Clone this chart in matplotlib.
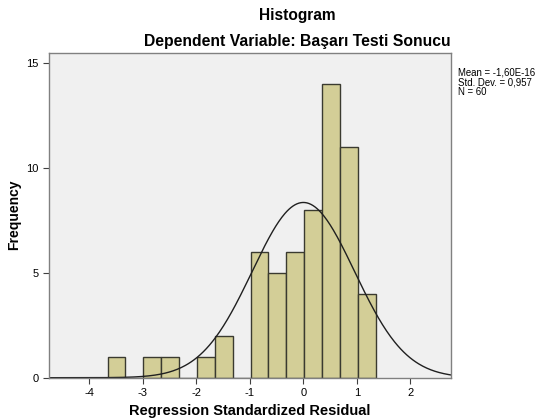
import numpy as np
import matplotlib.pyplot as plt

plt.rcParams['font.family'] = ['Liberation Sans', 'DejaVu Sans']
plt.rcParams['axes.unicode_minus'] = False

# histogram bins (SPSS residual histogram)
bin_start = -3.66
bin_width = 0.3341
counts = [1, 0, 1, 1, 0, 1, 2, 0, 6, 5, 6, 8, 14, 11, 4]
mean_val = -1.60e-16
std_val = 0.957
n_val = 60

edges = bin_start + bin_width * np.arange(len(counts) + 1)

fig = plt.figure(figsize=(5.39, 4.18), dpi=100)
ax = fig.add_axes([0.0915, 0.0964, 0.7452, 0.7776])
ax.set_facecolor('#f0f0f0')

ax.bar(edges[:-1], counts, width=bin_width, align='edge',
       color='#d3ce97', edgecolor='#3a3a30', linewidth=1.0)

x = np.linspace(-4.75, 2.76, 400)
y = n_val * bin_width / (std_val * np.sqrt(2 * np.pi)) * np.exp(-0.5 * ((x - mean_val) / std_val) ** 2)
ax.plot(x, y, color='#202020', linewidth=1.0)

ax.set_xlim(-4.75, 2.76)
ax.set_ylim(0, 15.5)
ax.set_xticks([-4, -3, -2, -1, 0, 1, 2])
ax.set_yticks([0, 5, 10, 15])
ax.tick_params(labelsize=8, length=4, width=0.8, color='#404040', direction='out')
for s in ax.spines.values():
    s.set_color('#808080')
    s.set_linewidth(1.0)

ax.set_xlabel('Regression Standardized Residual', fontsize=10.5, fontweight='bold', labelpad=4)
ax.set_ylabel('Frequency', fontsize=10, fontweight='bold', labelpad=4)

fig.text(0.551, 0.964, 'Histogram', ha='center', va='center', fontsize=11.2, fontweight='bold')
fig.text(0.551, 0.900, 'Dependent Variable: Başarı Testi Sonucu', ha='center', va='center',
         fontsize=11.3, fontweight='bold')

fig.text(0.849, 0.838, 'Mean = -1,60E-16\nStd. Dev. = 0,957\nN = 60', ha='left', va='top',
         fontsize=6.9, linespacing=0.95)

fig.savefig('out.png', dpi=100)
